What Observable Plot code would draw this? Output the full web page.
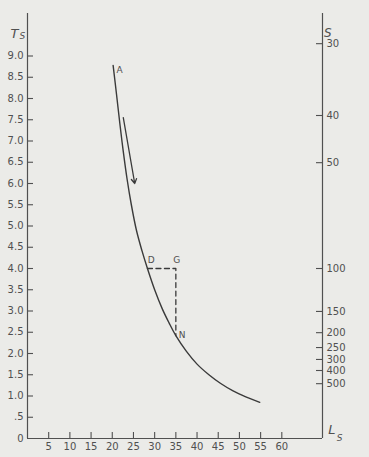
<!DOCTYPE html>
<html><head><meta charset="utf-8">
<script src="https://cdn.jsdelivr.net/npm/d3@7"></script>
<script src="https://cdn.jsdelivr.net/npm/@observablehq/plot@0.6"></script>
<style>
html,body{margin:0;padding:0;background:#ebebe8;}
#chart svg{display:block;}
</style></head><body><div id="chart"></div>
<script>
// Curve Ts as a function of Ls
const curveLs = [20.2, 21.0, 21.8, 22.6, 23.5, 24.5, 25.7, 27.0, 28.3, 30.0, 31.8, 33.4, 35.0, 37.5, 40.0, 42.8, 45.5, 48.5, 51.5, 54.8];
const curveTs = [8.78, 8.1, 7.4, 6.75, 6.1, 5.5, 4.9, 4.42, 4.0, 3.5, 3.05, 2.72, 2.42, 2.05, 1.75, 1.5, 1.3, 1.12, 0.98, 0.85];

// Dashed path D -> G -> N
const pathLs = [28.3, 35, 35];
const pathTs = [4.0, 4.0, 2.42];

// Direction arrow
const arrowLs = [22.6, 25.3];
const arrowTs = [7.55, 6.0];

// Named points
const pointNames = ["A", "D", "G", "N"];
const pointLs = [20.2, 28.3, 35, 35];
const pointTs = [8.78, 4.0, 4.0, 2.42];

// Axes
const xDomain = [0, 69.6];
const yDomain = [0, 10];
const lsTicks = [5, 10, 15, 20, 25, 30, 35, 40, 45, 50, 55, 60];
const tsTicks = [0, 0.5, 1.0, 1.5, 2.0, 2.5, 3.0, 3.5, 4.0, 4.5, 5.0, 5.5, 6.0, 6.5, 7.0, 7.5, 8.0, 8.5, 9.0];
const sLabels = [30, 40, 50, 100, 150, 200, 250, 300, 400, 500];
const sTsPos = [9.29, 7.6, 6.49, 4.0, 2.99, 2.49, 2.14, 1.86, 1.6, 1.29];

const curve = curveLs.map((x, i) => ({x, y: curveTs[i]}));
const path = pathLs.map((x, i) => ({x, y: pathTs[i]}));
const arrow = [{x1: arrowLs[0], y1: arrowTs[0], x2: arrowLs[1], y2: arrowTs[1]}];
const points = pointNames.map((n, i) => ({n, x: pointLs[i], y: pointTs[i]}));
const sMap = new Map(sTsPos.map((t, i) => [t, String(sLabels[i])]));
const fmtTs = d => d === 0 ? "0" : d < 1 ? ".5" : d.toFixed(1);

const W = 369, H = 457, mL = 27, mR = 47, mT = 13, mB = 19;
const innerW = W - mL - mR, innerH = H - mT - mB, tickLen = 6;

const ink = "#505050";
const labelOffsets = {A: [6.5, 4.5], D: [3.8, -8], G: [0.8, -8], N: [6.3, -1]};
const pointLabel = name => Plot.text(points.filter(p => p.n === name), {
  x: "x", y: "y", text: "n", dx: labelOffsets[name][0], dy: labelOffsets[name][1],
  fontSize: 9, fill: ink
});

const chart = Plot.plot({
  width: W, height: H,
  marginLeft: mL, marginRight: mR, marginTop: mT, marginBottom: mB,
  x: {domain: xDomain},
  y: {domain: yDomain},
  style: {background: "transparent", fontFamily: "DejaVu Sans", fontSize: "10px", color: ink},
  marks: [
    Plot.ruleX(xDomain, {stroke: ink, strokeWidth: 1.2}),
    Plot.ruleY([0], {stroke: ink, strokeWidth: 1.2}),
    // labels
    Plot.axisY(tsTicks, {anchor: "left", tickSize: 0, tickPadding: 4, tickFormat: fmtTs, label: null, fill: ink}),
    Plot.axisX(lsTicks, {anchor: "bottom", tickSize: 0, tickPadding: 4, label: null, fill: ink}),
    Plot.axisY(sTsPos, {anchor: "right", tickSize: 0, tickPadding: 4, tickFormat: d => sMap.get(d), label: null, fill: ink}),
    // inward ticks
    Plot.tickY(tsTicks.filter(d => d > 0), {y: d => d, insetRight: innerW - tickLen, stroke: ink, strokeWidth: 1.1}),
    Plot.tickX(lsTicks, {x: d => d, insetTop: innerH - tickLen, stroke: ink, strokeWidth: 1.1}),
    Plot.tickY(sTsPos, {y: d => d, insetLeft: innerW - tickLen, stroke: ink, strokeWidth: 1.1}),
    // data
    Plot.line(curve, {x: "x", y: "y", curve: "catmull-rom", stroke: "#3a3a3a", strokeWidth: 1.4}),
    Plot.line(path, {x: "x", y: "y", stroke: "#3a3a3a", strokeWidth: 1.3, strokeDasharray: "5,3.5"}),
    Plot.arrow(arrow, {x1: "x1", y1: "y1", x2: "x2", y2: "y2", stroke: "#3a3a3a", strokeWidth: 1.3, headLength: 6}),
    ...pointNames.map(pointLabel),
    // axis titles
    Plot.text(["T"], {frameAnchor: "top-left", dx: -17, dy: 15, fontSize: 13, fontStyle: "italic", fill: ink}),
    Plot.text(["S"], {frameAnchor: "top-left", dx: -8, dy: 19, fontSize: 9, fontStyle: "italic", fill: ink}),
    Plot.text(["S"], {frameAnchor: "top-right", dx: 9, dy: 15, fontSize: 12, fontStyle: "italic", fill: ink}),
    Plot.text(["L"], {frameAnchor: "bottom-right", dx: 13, dy: -5, fontSize: 13, fontStyle: "italic", fill: ink}),
    Plot.text(["S"], {frameAnchor: "bottom-right", dx: 20, dy: 2, fontSize: 9, fontStyle: "italic", fill: ink})
  ]
});
document.getElementById("chart").appendChild(chart);
</script>
</body></html>
